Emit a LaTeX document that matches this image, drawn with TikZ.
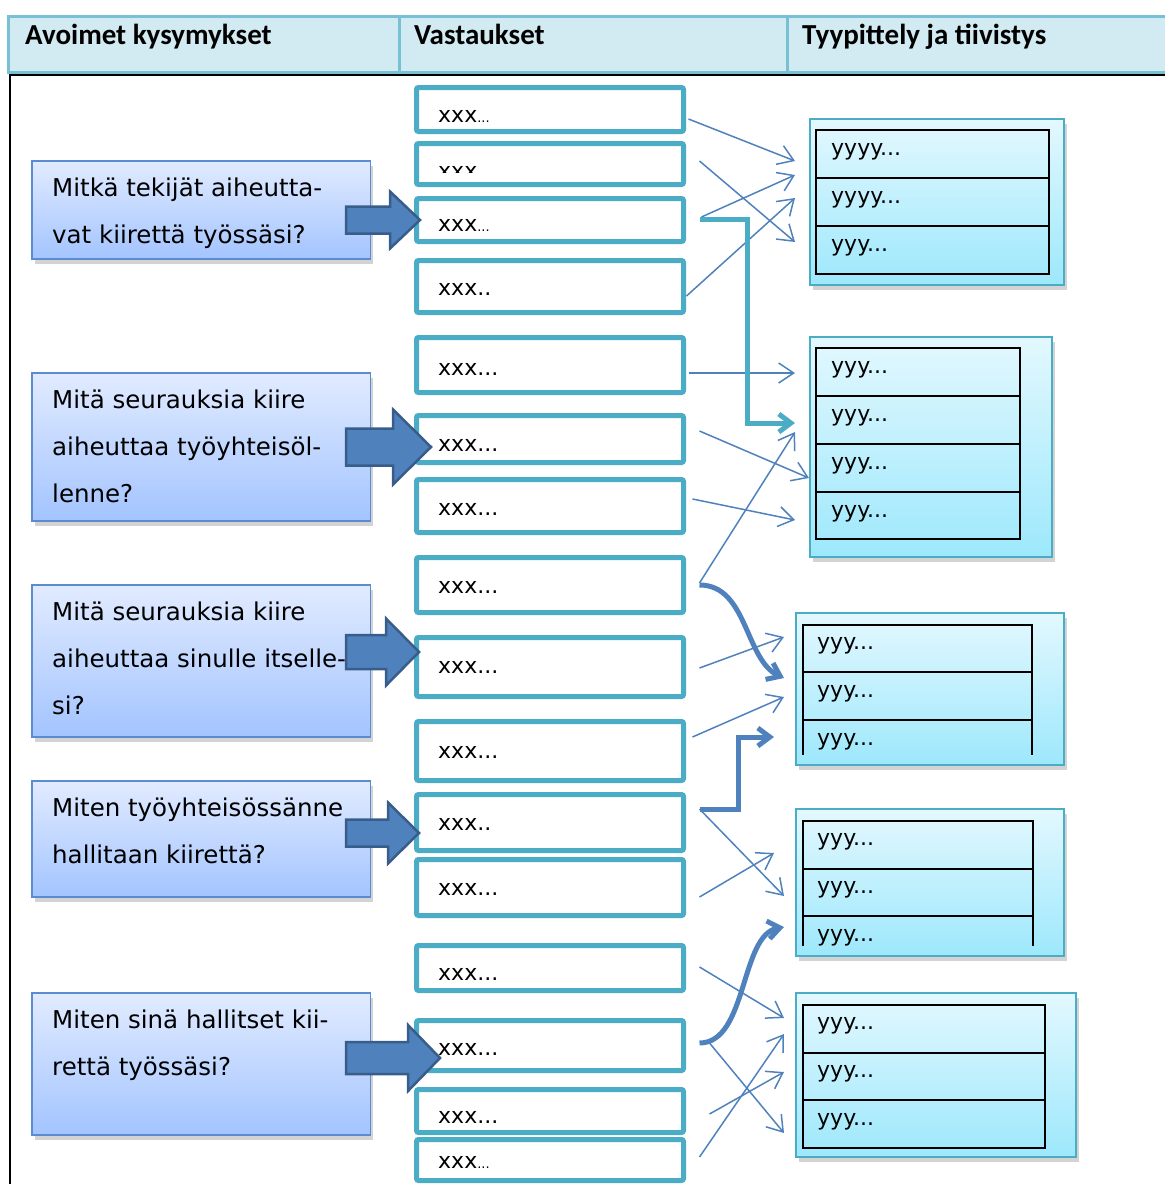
\documentclass[tikz,border=0pt]{standalone}
\usepackage{fontspec}
\setmainfont{DejaVu Sans}
\newfontfamily\hdfont{Carlito}
\usetikzlibrary{arrows.meta,shadows}
\definecolor{hdfill}{HTML}{D2EAF1}
\definecolor{hdline}{HTML}{78C0D4}
\definecolor{qtop}{HTML}{E1EBFF}
\definecolor{qbot}{HTML}{A3C4FF}
\definecolor{qline}{HTML}{5B8BD0}
\definecolor{fafill}{HTML}{4F81BD}
\definecolor{faline}{HTML}{385D8A}
\definecolor{ansline}{HTML}{4BACC6}
\definecolor{gtop}{HTML}{E3F8FE}
\definecolor{gbot}{HTML}{9DE8FC}
\definecolor{linkc}{HTML}{4F81BD}
\newcommand{\sdots}{{\fontsize{13}{13}\selectfont...}}
\newcommand{\tdots}{...}
\newcommand{\twod}{..}

\begin{document}
\begin{tikzpicture}[x=1pt,y=-1pt,
    hdtext/.style={anchor=base west,inner sep=0,font=\hdfont\bfseries\fontsize{29}{34}\selectfont},
    qbox/.style={draw=qline,line width=1.5pt,top color=qtop,bottom color=qbot,minimum width=338.5pt,inner sep=0,
        drop shadow={opacity=0.35,shadow xshift=3pt,shadow yshift=-5pt}},
    qtext/.style={anchor=base west,align=left,inner sep=0,font=\fontsize{24.5}{47}\selectfont},
    fatarrow/.style={fill=fafill,draw=faline,line width=2.5pt,line join=miter},
    ans/.style={draw=ansline,line width=5pt,rounded corners=2pt,fill=white,minimum width=267pt,inner sep=0},
    atext/.style={anchor=base west,inner sep=0,font=\fontsize{22}{26}\selectfont},
    grp/.style={draw=ansline,line width=2pt,top color=gtop,bottom color=gbot,inner sep=0,
        drop shadow={opacity=0.35,shadow xshift=3pt,shadow yshift=-5pt}},
    tbl/.style={draw=black,line width=2pt},
    ytext/.style={anchor=base west,inner sep=0,font=\fontsize{22}{26}\selectfont},
    link/.style={draw=linkc,line width=1.5pt,-{Straight Barb[length=15pt,width=20pt]}},
    pipe/.style={line width=5pt,-{Straight Barb[length=12pt,width=18pt]}}]
\useasboundingbox (0,0) rectangle (1165,1184);

\fill[hdfill] (8,16) rectangle (1165,72);
\draw[hdline,line width=3pt] (1165,16) -- (8,16) -- (8,72) -- (1165,72) (399,16) -- (399,72) (787,16) -- (787,72);
\draw[line width=2.5pt] (1165,75) -- (10,75) -- (10,1184);
\node[hdtext] (h1) at (25,44) {Avoimet kysymykset};
\node[hdtext] (h2) at (414,44) {Vastaukset};
\node[hdtext] (h3) at (802,44) {Tyypittely ja tiivistys};

\foreach \i/\c/\h/\n/\t in {1/210/98/2/{Mitkä tekijät aiheutta-\\vat kiirettä työssäsi?},
    2/447/148/3/{Mitä seurauksia kiire\\aiheuttaa työyhteisöl-\\lenne?},
    3/661/152/3/{Mitä seurauksia kiire\\aiheuttaa sinulle itselle-\\si?},
    4/839/116/2/{Miten työyhteisössänne\\hallitaan kiirettä?},
    5/1064/142/2/{Miten sinä hallitset kii-\\rettä työssäsi?}}{
  \node[qbox,minimum height=\h pt] (q\i) at (201,\c) {};
  \node[qtext] (q\i t) at (52,\c-\h/2+35+47*\n-47) {\t};
}

\foreach \i/\c/\h/\b/\t in {1/109.5/44/122/xxx\sdots, 2/164/41/178/{}, 3/220/43/231/xxx\sdots,
    4/286.5/52/295/xxx\twod, 5/365/55/375/xxx\tdots, 6/439/47/451/xxx\tdots, 7/506/53/515/xxx\tdots,
    8/585/55/593/xxx\tdots, 9/667/59/673/xxx\tdots, 10/751/59/758/xxx\tdots, 11/822.5/56/830/xxx\twod,
    12/887.5/56/895/xxx\tdots, 13/968/45/980/xxx\tdots, 14/1045.5/50/1055/xxx\tdots, 15/1111/43/1123/xxx\tdots,
    16/1160/41/1168/xxx\sdots}{
  \node[ans,minimum height=\h pt] (r\i) at (550,\c) {};
  \node[atext] (r\i t) at (438,\b) {\t};
}
\begin{scope}
  \clip (419,144) rectangle (681,172);
  \node[atext] (r2x) at (438,178) {xxx};
\end{scope}

\foreach \y/\tip/\hb/\sh/\hh in {220/420/390/13.5/28.5, 447/431/393/18.5/37.5, 652/419/386/17/33.5,
    833/419/388/13.5/30.5, 1058/440/408/16/33}
  \draw[fatarrow] (346,\y-\sh) -- (\hb,\y-\sh) -- (\hb,\y-\hh) -- (\tip,\y) -- (\hb,\y+\hh) -- (\hb,\y+\sh) -- (346,\y+\sh) -- cycle;

\node[grp,minimum width=254pt,minimum height=166pt] (g1) at (937,202) {};
\draw[tbl] (816,130) rectangle (1049,274) (816,178) -- (1049,178) (816,226) -- (1049,226);
\foreach \t [count=\k] in {yyyy\tdots,yyyy\tdots,yyy\tdots}
  \node[ytext] (g1t\k) at (831,107+48*\k) {\t};

\node[grp,minimum width=242pt,minimum height=220pt] (g2) at (931,447) {};
\draw[tbl] (816,348) rectangle (1020,539) (816,396) -- (1020,396) (816,444) -- (1020,444) (816,492) -- (1020,492);
\foreach \k in {1,2,3,4}
  \node[ytext] (g2t\k) at (831,325+48*\k) {yyy\tdots};

\node[grp,minimum width=268pt,minimum height=152pt] (g3) at (930,689) {};
\draw[tbl] (803,755) -- (803,625) -- (1032,625) -- (1032,755) (803,672) -- (1032,672) (803,720) -- (1032,720);
\foreach \k in {1,2,3}
  \node[ytext] (g3t\k) at (817,601+48*\k) {yyy\tdots};

\node[grp,minimum width=268pt,minimum height=147pt] (g4) at (930,882.5) {};
\draw[tbl] (803,946) -- (803,821) -- (1033,821) -- (1033,946) (803,869) -- (1033,869) (803,916) -- (1033,916);
\foreach \k in {1,2,3}
  \node[ytext] (g4t\k) at (817,797+48*\k) {yyy\tdots};

\node[grp,minimum width=280pt,minimum height=164pt] (g5) at (936,1075) {};
\draw[tbl] (803,1005) rectangle (1045,1148) (803,1053) -- (1045,1053) (803,1100) -- (1045,1100);
\foreach \k in {1,2,3}
  \node[ytext] (g5t\k) at (817,981+48*\k) {yyy\tdots};

\foreach \i/\sx/\sy/\ex/\ey in {1/2.5/-9.5/795/161, 2/13.5/3/795/242, 3/15.5/3/795/175, 4/0.5/-9.5/795/198,
    5/2.5/-8/795/373, 6/13.5/8/809/478, 7/6.5/7/795/520, 8/13.5/2/795/432,
    9/13.5/-1/784/637, 10/6.5/14/784/697, 11/13.5/13.5/784/896, 12/13.5/-9.5/774/853,
    13/13.5/1/784/1018, 14/23.5/2.5/784/1133, 15/23.5/-3/784/1072, 16/13.5/3/784/1034}{
  \coordinate (t\i) at (\ex,\ey);
  \draw[link] ([xshift=\sx pt,yshift=\sy pt]r\i.east) -- (t\i);
}

\coordinate (t17) at (795,423);
\coordinate (t18) at (774,737);
\coordinate (t19) at (784,678);
\coordinate (t20) at (784,927);
\draw[pipe,ansline] ([xshift=13.5pt,yshift=1pt]r3.east) -- ++(48,0) |- (t17);
\draw[pipe,fafill] ([xshift=13.5pt,yshift=13.5pt]r11.east) -- ++(39,0) |- (t18);
\draw[pipe,fafill] ([xshift=13.5pt]r8.east) .. controls +(48,0) and +(-39,-18) .. (t19);
\draw[pipe,fafill] ([xshift=13.5pt,yshift=2.5pt]r14.east) .. controls +(48,0) and +(-44,8) .. (t20);
\end{tikzpicture}
\end{document}
